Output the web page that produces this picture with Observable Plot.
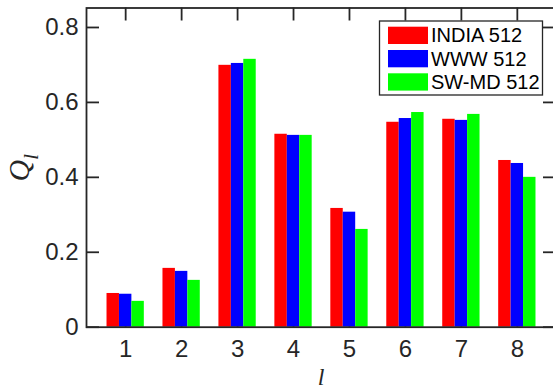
<!DOCTYPE html>
<html><head><meta charset="utf-8">
<script src="https://cdn.jsdelivr.net/npm/d3@7"></script>
<script src="https://cdn.jsdelivr.net/npm/@observablehq/plot@0.6"></script>
<style>
body{margin:0;background:#fff;}
#chart{width:553px;height:389px;overflow:hidden;position:relative;background:#fff;}
#chart svg{max-width:none !important;}
</style></head><body><div id="chart"></div>
<script>
const categories = [1, 2, 3, 4, 5, 6, 7, 8];
const xTickLabels = ["1", "2", "3", "4", "5", "6", "7", "8"];
const seriesNames = ["INDIA 512", "WWW 512", "SW-MD 512"];
const seriesColors = ["#ff0000", "#0000ff", "#00ff00"];
const india = [0.090, 0.157, 0.699, 0.515, 0.317, 0.547, 0.555, 0.445];
const www   = [0.088, 0.149, 0.704, 0.512, 0.307, 0.557, 0.552, 0.437];
const swmd  = [0.069, 0.125, 0.715, 0.512, 0.261, 0.573, 0.568, 0.400];
const yTicks = [0, 0.2, 0.4, 0.6, 0.8];
const yTickLabels = ["0", "0.2", "0.4", "0.6", "0.8"];

const seriesValues = [india, www, swmd];
const data = [];
seriesValues.forEach((vals, i) => vals.forEach((v, j) =>
  data.push({l: categories[j], series: seriesNames[i], idx: i, value: v})));

const W = 556, H = 389, mL = 86, mR = 0, mT = 7.5, mB = 62.3;
const frameW = W - mL - mR, frameH = H - mT - mB;
const tickLen = 13;
const groupWidth = 2 / 3, barW = groupWidth / 3;
const axisColor = "#262626";

const chart = Plot.plot({
  width: W, height: H,
  marginLeft: mL, marginRight: mR, marginTop: mT, marginBottom: mB,
  style: {fontFamily: "'Liberation Sans', Arial, sans-serif", fontSize: "24px", color: axisColor, background: "#fff", maxWidth: "none"},
  x: {domain: [0.3, 8.7], label: null},
  y: {domain: [0, 0.852], label: null},
  color: {domain: seriesNames, range: seriesColors},
  marks: [
    Plot.tickX(categories, {x: d => d, stroke: axisColor, strokeWidth: 1.8, insetTop: frameH - tickLen}),
    Plot.tickX(categories, {x: d => d, stroke: axisColor, strokeWidth: 1.8, insetBottom: frameH - tickLen}),
    Plot.tickY(yTicks, {y: d => d, stroke: axisColor, strokeWidth: 1.8, insetRight: frameW - tickLen}),
    Plot.tickY(yTicks, {y: d => d, stroke: axisColor, strokeWidth: 1.8, insetLeft: frameW - tickLen}),
    Plot.rectY(data, {
      x1: d => d.l - groupWidth / 2 + d.idx * barW,
      x2: d => d.l - groupWidth / 2 + (d.idx + 1) * barW,
      y1: 0, y2: "value", fill: "series"
    }),
    Plot.frame({stroke: axisColor, strokeWidth: 1.8}),
    Plot.axisX(categories, {tickSize: 0, tickPadding: 13, fontSize: 24, label: null,
      tickFormat: d => xTickLabels[categories.indexOf(d)]}),
    Plot.axisY(yTicks, {tickSize: 0, tickPadding: 8, fontSize: 24, label: null,
      tickFormat: d => yTickLabels[yTicks.indexOf(d)]})
  ]
});
chart.style.maxWidth = "none";
document.getElementById("chart").appendChild(chart);

const svg = d3.select(chart);
const serif = "'Liberation Serif', 'Times New Roman', serif";
// y label Q_l
const yl = svg.append("text")
  .attr("transform", "translate(29,181.5) rotate(-90)")
  .attr("text-anchor", "start")
  .attr("font-family", serif).attr("font-style", "italic")
  .attr("font-size", 30).attr("fill", axisColor);
yl.append("tspan").text("Q");
yl.append("tspan").attr("font-size", 21).attr("dy", 9).text("l");
// x label l
svg.append("text")
  .attr("x", mL + frameW / 2).attr("y", 385)
  .attr("text-anchor", "middle")
  .attr("font-family", serif).attr("font-style", "italic")
  .attr("font-size", 24).attr("fill", axisColor)
  .text("l");
// legend
const leg = svg.append("g").attr("text-anchor", "start");
leg.append("rect").attr("x", 379.5).attr("y", 21).attr("width", 163).attr("height", 74)
  .attr("fill", "#fff").attr("stroke", axisColor).attr("stroke-width", 1.3);
seriesNames.forEach((name, i) => {
  leg.append("rect").attr("x", 388).attr("y", 26.7 + i * 23.3)
    .attr("width", 40).attr("height", 17.3).attr("fill", seriesColors[i]);
  leg.append("text").attr("x", 431).attr("y", 42.3 + i * 23.3)
    .attr("text-anchor", "start")
    .attr("font-family", "'Liberation Sans', Arial, sans-serif")
    .attr("font-size", 20).attr("fill", "#000").text(name);
});
</script></body></html>
